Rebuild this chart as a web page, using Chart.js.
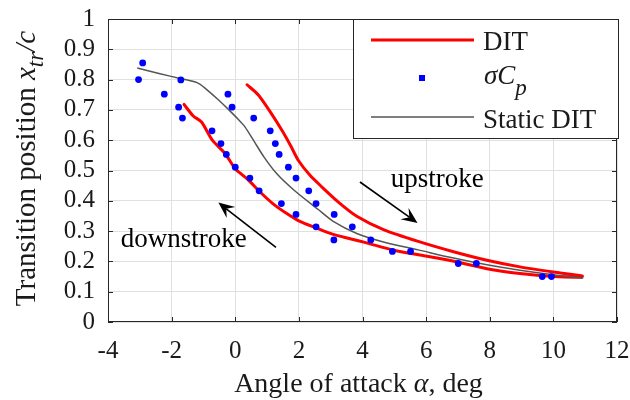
<!DOCTYPE html>
<html>
<head>
<meta charset="utf-8">
<script src="https://cdn.jsdelivr.net/npm/chart.js@4.4.0/dist/chart.umd.min.js"></script>
<style>
  html, body { margin: 0; padding: 0; background: #fff; }
</style>
</head>
<body>
<canvas id="chart" width="630" height="400"></canvas>
<script>
// DIT transition line, upstroke then downstroke (angle of attack, x_tr/c)
const upAlpha = [0.37, 0.72, 1.09, 1.50, 1.75, 1.98, 2.35, 2.72, 3.25, 3.82, 4.66, 5.75, 6.86, 7.91, 8.95, 10.0, 10.91];
const upXtr   = [0.783, 0.750, 0.695, 0.627, 0.580, 0.534, 0.484, 0.446, 0.395, 0.349, 0.305, 0.266, 0.232, 0.204, 0.182, 0.165, 0.152];
const downAlpha = [10.88, 10.0, 8.95, 7.91, 6.80, 5.76, 4.97, 4.13, 3.61, 3.08, 2.53, 2.03, 1.62, 1.19, 0.78, 0.40, 0.00, -0.32, -0.72, -1.06, -1.32, -1.61];
const downXtr   = [0.148, 0.150, 0.160, 0.176, 0.202, 0.222, 0.237, 0.261, 0.275, 0.289, 0.311, 0.332, 0.358, 0.390, 0.429, 0.470, 0.506, 0.556, 0.600, 0.660, 0.680, 0.718];

// static DIT
const staticAlpha = [-3.08, -2.40, -1.70, -1.20, -0.95, -0.55, -0.20, 0.10, 0.30, 0.60, 0.90, 1.30, 1.85, 2.60, 3.08, 3.82, 4.66, 5.75, 6.86, 7.91, 8.95, 10.0, 10.94];
const staticXtr   = [0.838, 0.820, 0.803, 0.790, 0.772, 0.735, 0.700, 0.668, 0.645, 0.595, 0.545, 0.490, 0.435, 0.372, 0.332, 0.292, 0.264, 0.238, 0.211, 0.189, 0.171, 0.156, 0.145];

// sigma Cp sensor estimates
const sigmaAlpha = [-3.04, -2.91, -2.23, -1.78, -1.71, -1.66, -0.73, -0.45, -0.28, -0.23, -0.10, 0.00, 0.46, 0.58, 0.75, 1.10, 1.26, 1.38, 1.45, 1.67, 1.91, 1.91, 2.31, 2.54, 2.54, 3.10, 3.11, 3.68, 4.26, 4.94, 5.51, 7.01, 7.58, 9.65, 9.94];
const sigmaXtr   = [0.800, 0.855, 0.752, 0.709, 0.799, 0.673, 0.631, 0.589, 0.553, 0.752, 0.709, 0.511, 0.475, 0.673, 0.433, 0.631, 0.589, 0.553, 0.391, 0.511, 0.475, 0.355, 0.433, 0.391, 0.314, 0.271, 0.355, 0.314, 0.271, 0.233, 0.233, 0.193, 0.193, 0.150, 0.150];

const xTicks = [-4, -2, 0, 2, 4, 6, 8, 10, 12];
const yTicks = [0, 0.1, 0.2, 0.3, 0.4, 0.5, 0.6, 0.7, 0.8, 0.9, 1];

const FONT = '"Liberation Serif", "Times New Roman", serif';
const INK = '#1a1a1a';

function toPoints(xs, ys) {
    return xs.map((v, i) => ({ x: v, y: ys[i] }));
}

// draw a row of text pieces with their own font and vertical offset
function drawRuns(ctx, runs, x, y) {
    let cx = x;
    runs.forEach(r => {
        ctx.font = r.font;
        ctx.fillText(r.text, cx, y + (r.dy || 0));
        cx += ctx.measureText(r.text).width;
    });
    return cx - x;
}

function runsWidth(ctx, runs) {
    let w = 0;
    runs.forEach(r => {
        ctx.font = r.font;
        w += ctx.measureText(r.text).width;
    });
    return w;
}

function arrow(ctx, x1, y1, x2, y2) {
    const ang = Math.atan2(y2 - y1, x2 - x1);
    const len = 16, half = 7, notch = 10;
    ctx.beginPath();
    ctx.moveTo(x1, y1);
    ctx.lineTo(x2 - notch * Math.cos(ang), y2 - notch * Math.sin(ang));
    ctx.lineWidth = 1.6;
    ctx.stroke();
    const bx = x2 - len * Math.cos(ang), by = y2 - len * Math.sin(ang);
    ctx.beginPath();
    ctx.moveTo(x2, y2);
    ctx.lineTo(bx + half * Math.sin(ang), by - half * Math.cos(ang));
    ctx.lineTo(x2 - notch * Math.cos(ang), y2 - notch * Math.sin(ang));
    ctx.lineTo(bx - half * Math.sin(ang), by + half * Math.cos(ang));
    ctx.closePath();
    ctx.fill();
}

const decorations = {
    id: 'decorations',
    afterDatasetsDraw(chart) {
        const { ctx, chartArea: a, scales: { x, y } } = chart;
        ctx.save();
        ctx.strokeStyle = '#262626';
        ctx.fillStyle = INK;

        // axes box with inward ticks
        ctx.lineWidth = 1;
        ctx.strokeRect(a.left + 0.5, a.top + 0.5, a.right - a.left - 1, a.bottom - a.top - 1);
        ctx.beginPath();
        xTicks.forEach(v => {
            const px = Math.round(x.getPixelForValue(v)) + 0.5;
            ctx.moveTo(px, a.bottom); ctx.lineTo(px, a.bottom - 5);
            ctx.moveTo(px, a.top); ctx.lineTo(px, a.top + 5);
        });
        yTicks.forEach(v => {
            const py = Math.round(y.getPixelForValue(v)) + 0.5;
            ctx.moveTo(a.left, py); ctx.lineTo(a.left + 5, py);
            ctx.moveTo(a.right, py); ctx.lineTo(a.right - 5, py);
        });
        ctx.stroke();

        // stroke direction notes
        ctx.strokeStyle = '#000';
        ctx.fillStyle = '#000';
        arrow(ctx, x.getPixelForValue(3.92), y.getPixelForValue(0.462), x.getPixelForValue(5.73), y.getPixelForValue(0.327));
        arrow(ctx, x.getPixelForValue(1.28), y.getPixelForValue(0.246), x.getPixelForValue(-0.53), y.getPixelForValue(0.394));
        ctx.font = '27px ' + FONT;
        ctx.textBaseline = 'alphabetic';
        ctx.textAlign = 'left';
        ctx.fillText('upstroke', x.getPixelForValue(4.89), y.getPixelForValue(0.444));
        ctx.fillText('downstroke', x.getPixelForValue(-3.60), y.getPixelForValue(0.246));

        // legend
        const lx = 353, ly = 19, lw = 265, lh = 119;
        ctx.fillStyle = '#fff';
        ctx.fillRect(lx, ly, lw, lh);
        ctx.strokeStyle = '#262626';
        ctx.lineWidth = 1;
        ctx.strokeRect(lx + 0.5, ly + 0.5, lw, lh);
        const ds = chart.data.datasets;
        ctx.fillStyle = INK;
        ctx.lineCap = 'butt';
        // DIT
        ctx.strokeStyle = ds[0].borderColor;
        ctx.lineWidth = ds[0].borderWidth;
        ctx.beginPath(); ctx.moveTo(371, 40); ctx.lineTo(474, 40); ctx.stroke();
        drawRuns(ctx, [{ text: ds[0].label, font: '27px ' + FONT }], 483, 50);
        // sigma Cp
        ctx.fillStyle = ds[1].backgroundColor;
        ctx.fillRect(419, 75, 6, 6);
        ctx.fillStyle = INK;
        drawRuns(ctx, [
            { text: '\u03c3C', font: 'italic 27px ' + FONT },
            { text: 'p', font: 'italic 23px ' + FONT, dy: 11 }
        ], 484, 84);
        // static DIT
        ctx.strokeStyle = ds[2].borderColor;
        ctx.lineWidth = ds[2].borderWidth;
        ctx.beginPath(); ctx.moveTo(371, 117); ctx.lineTo(474, 117); ctx.stroke();
        drawRuns(ctx, [{ text: ds[2].label, font: '27px ' + FONT }], 483, 128);

        // axis titles
        const xRuns = [
            { text: 'Angle of attack ', font: '28px ' + FONT },
            { text: '\u03b1', font: 'italic 28px ' + FONT },
            { text: ', deg', font: '28px ' + FONT }
        ];
        const xw = runsWidth(ctx, xRuns);
        drawRuns(ctx, xRuns, (a.left + a.right) / 2 - xw / 2 - 4, 392);

        const yRuns = [
            { text: 'Transition position ', font: '29px ' + FONT },
            { text: 'x', font: 'italic 29px ' + FONT },
            { text: 'tr', font: 'italic 23px ' + FONT, dy: 8 },
            { text: '/c', font: 'italic 29px ' + FONT }
        ];
        const yw = runsWidth(ctx, yRuns);
        ctx.translate(35, (a.top + a.bottom) / 2 - 2);
        ctx.rotate(-Math.PI / 2);
        drawRuns(ctx, yRuns, -yw / 2, 0);
        ctx.restore();
    }
};

window.onload = function() {
    const ctx = document.getElementById('chart').getContext('2d');
    new Chart(ctx, {
        type: 'scatter',
        data: {
            datasets: [{
                label: 'DIT',
                data: toPoints(upAlpha.concat(downAlpha), upXtr.concat(downXtr)),
                showLine: true,
                borderColor: '#ff0000',
                borderWidth: 3,
                pointRadius: 0,
                tension: 0.25,
                borderCapStyle: 'round',
                borderJoinStyle: 'round',
                order: 2
            }, {
                label: '\u03c3Cp',
                data: toPoints(sigmaAlpha, sigmaXtr),
                backgroundColor: '#0000ff',
                borderWidth: 0,
                pointRadius: 3.4,
                order: 0
            }, {
                label: 'Static DIT',
                data: toPoints(staticAlpha, staticXtr),
                showLine: true,
                borderColor: '#555555',
                borderWidth: 1.5,
                pointRadius: 0,
                tension: 0.25,
                order: 1
            }]
        },
        options: {
            responsive: false,
            animation: false,
            layout: { padding: { top: 19, right: 13, left: 0, bottom: 0 } },
            plugins: {
                legend: { display: false },
                tooltip: { enabled: false }
            },
            scales: {
                x: {
                    min: -4,
                    max: 12,
                    afterBuildTicks: s => { s.ticks = xTicks.map(v => ({ value: v })); },
                    afterFit: s => {
                        s.height = 78;
                        s.paddingLeft = 0;
                        s.paddingRight = 0;
                    },
                    grid: { color: '#e0e0e0', lineWidth: 1, drawTicks: false },
                    border: { display: false },
                    ticks: { color: INK, font: { family: FONT, size: 25 }, padding: 14, maxRotation: 0, autoSkip: false }
                },
                y: {
                    min: 0,
                    max: 1,
                    afterBuildTicks: s => { s.ticks = yTicks.map(v => ({ value: v })); },
                    afterFit: s => {
                        s.width = 108;
                        s.paddingTop = 0;
                        s.paddingBottom = 0;
                    },
                    grid: { color: '#e0e0e0', lineWidth: 1, drawTicks: false },
                    border: { display: false },
                    ticks: {
                        color: INK,
                        font: { family: FONT, size: 25 },
                        padding: 13,
                        autoSkip: false,
                        callback: v => String(Math.round(v * 10) / 10)
                    }
                }
            }
        },
        plugins: [decorations]
    });
};
</script>
</body>
</html>
